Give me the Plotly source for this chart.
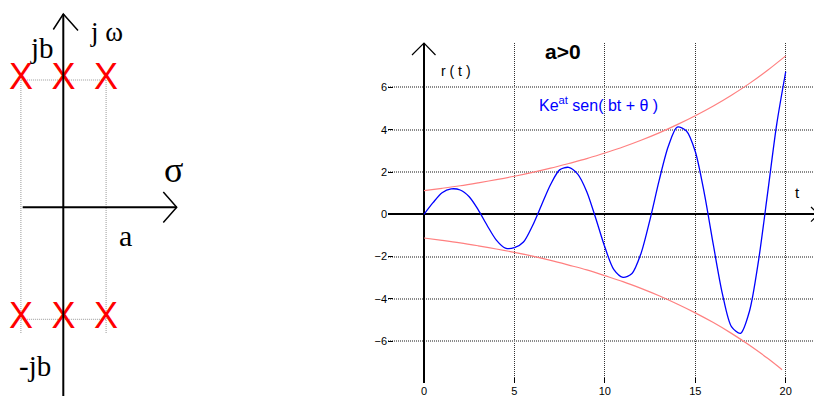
import plotly.graph_objects as go

W, H = 814, 396

# ---- time response r(t) = K e^{at} sen(bt + θ), a > 0 ----
t_resp = [0, 0.5, 1, 1.5, 2, 2.5, 3, 3.5, 4, 4.5, 5, 5.5, 6, 6.5, 7, 7.5, 8, 8.5, 9, 9.5,
          10, 10.5, 11, 11.5, 12, 12.5, 13, 13.5, 14, 14.5, 15, 15.5, 16, 16.5, 17, 17.5,
          18, 18.5, 19, 19.5, 20]
r_resp = [0.0, 0.55, 1.02, 1.20, 1.15, 0.83, 0.21, -0.54, -1.22, -1.60, -1.58, -1.31,
          -0.54, 0.44, 1.41, 2.10, 2.22, 1.90, 1.07, -0.20, -1.55, -2.62, -2.98, -2.80,
          -1.85, -0.24, 1.59, 3.19, 4.12, 3.95, 2.97, 0.99, -1.45, -3.76, -5.31, -5.63,
          -4.57, -2.18, 1.00, 4.24, 6.74]

# envelope ±K e^{at}
env_up_t = [0, 1, 2, 3, 4, 5, 6, 7, 8, 9, 10, 11, 12, 13, 14, 15, 16, 17, 18, 19, 20]
env_up = [1.12, 1.23, 1.35, 1.49, 1.64, 1.80, 1.98, 2.18, 2.40, 2.63, 2.90, 3.18, 3.50,
          3.85, 4.24, 4.66, 5.12, 5.63, 6.19, 6.81, 7.49]
env_lo_t = [0, 1, 2, 3, 4, 5, 6, 7, 8, 9, 10, 11, 12, 13, 14, 15, 16, 17, 18, 19, 19.8]
env_lo = [-1.12, -1.23, -1.35, -1.49, -1.64, -1.80, -1.98, -2.18, -2.40, -2.63, -2.90,
          -3.18, -3.50, -3.85, -4.24, -4.66, -5.12, -5.63, -6.19, -6.81, -7.35]

x_ticks = [0, 5, 10, 15, 20]
y_ticks = [-6, -4, -2, 0, 2, 4, 6]

# ---- s-plane poles (σ, jω): σ ∈ {-a, 0, a}, jω = ±jb with a = b = 1 ----
pole_sigma = [-1, 0, 1]
pole_b = 1


def px(x, y):
    """pixel position -> paper coordinates"""
    return x / W, 1 - y / H


def path(points):
    pts = [px(x, y) for x, y in points]
    return "M " + " L ".join(f"{a:.5f},{b:.5f}" for a, b in pts)


fig = go.Figure()

# envelope curves
fig.add_trace(go.Scatter(x=env_up_t, y=env_up, mode="lines", line=dict(color="#FF8080", width=1.2, shape="spline"),
                         xaxis="x", yaxis="y", hoverinfo="skip"))
fig.add_trace(go.Scatter(x=env_lo_t, y=env_lo, mode="lines", line=dict(color="#FF8080", width=1.2, shape="spline"),
                         xaxis="x", yaxis="y", hoverinfo="skip"))
# response
fig.add_trace(go.Scatter(x=t_resp, y=r_resp, mode="lines", line=dict(color="#0000FF", width=1.3, shape="spline", smoothing=0.8),
                         xaxis="x", yaxis="y"))

# pole diagram: dotted guide rows through the poles
for w in (pole_b, -pole_b):
    fig.add_trace(go.Scatter(x=pole_sigma, y=[w] * len(pole_sigma), mode="lines",
                             line=dict(color="#9A9A9A", width=1, dash="1px,1px"),
                             xaxis="x2", yaxis="y2", hoverinfo="skip"))
# pole markers
fig.add_trace(go.Scatter(x=pole_sigma * 2, y=[pole_b] * 3 + [-pole_b] * 3, mode="text", text=["X"] * 6,
                         textposition="middle center",
                         textfont=dict(family="Liberation Sans", size=36, color="#FF0000"),
                         xaxis="x2", yaxis="y2"))

shapes = []
# dotted verticals through the outer poles
for s in (pole_sigma[0], pole_sigma[-1]):
    shapes.append(dict(type="line", xref="x2", yref="y2", x0=s, x1=s, y0=pole_b, y1=-pole_b - 0.115,
                       line=dict(color="#9A9A9A", width=1, dash="1px,1px"), layer="below"))
# jω axis and σ axis with open arrowheads
shapes.append(dict(type="path", xref="paper", yref="paper", path=path([(63.3, 396), (63.3, 14)]),
                   line=dict(color="black", width=2)))
shapes.append(dict(type="path", xref="paper", yref="paper", path=path([(53.3, 29.5), (63.3, 14), (78, 30.5)]),
                   line=dict(color="black", width=1.5)))
shapes.append(dict(type="path", xref="paper", yref="paper", path=path([(22.7, 207.3), (176.7, 207.3)]),
                   line=dict(color="black", width=2)))
shapes.append(dict(type="path", xref="paper", yref="paper", path=path([(163.3, 192), (176.7, 207.3), (163.3, 222.5)]),
                   line=dict(color="black", width=1.5)))
# arrowheads of the r(t) and t axes
shapes.append(dict(type="path", xref="paper", yref="paper", path=path([(412, 55), (424, 43), (435.5, 55)]),
                   line=dict(color="black", width=1.2)))
shapes.append(dict(type="path", xref="paper", yref="paper", path=path([(811, 207), (818.5, 214.3), (811, 221.6)]),
                   line=dict(color="black", width=1.2)))


def ann(text, x, y, size, family="Liberation Serif", color="black", xanchor="center", bold=False):
    xp, yp = px(x, y)
    return dict(text=f"<b>{text}</b>" if bold else text, x=xp, y=yp, xref="paper", yref="paper",
                xanchor=xanchor, yanchor="middle", showarrow=False,
                font=dict(family=family, size=size, color=color))


annotations = [
    ann("j ω", 106, 32, 27),
    ann("jb", 41.5, 48, 29),
    ann("σ", 173, 170, 36),
    ann("a", 125, 236, 30),
    ann("-jb", 35, 366, 29),
    ann("a>0", 563, 51, 21, family="Liberation Sans", bold=True),
    ann("r ( t )", 456, 71, 14, family="Liberation Sans"),
    ann("Ke<sup>at</sup> sen( bt + θ )", 537, 104, 16, family="Liberation Sans", color="#0000FF", xanchor="left"),
    ann("t", 797, 192, 15, family="Liberation Sans"),
]

x0_px, x_scale = 424.0, 18.085
y0_px, y_scale = 214.3, 21.15

fig.update_layout(
    width=W, height=H,
    margin=dict(l=0, r=0, t=0, b=0, autoexpand=False),
    paper_bgcolor="white", plot_bgcolor="white",
    showlegend=False,
    shapes=shapes,
    annotations=annotations,
    xaxis=dict(domain=[388 / W, 1], range=[(388 - x0_px) / x_scale, (W - x0_px) / x_scale],
               tickvals=x_ticks, ticks="inside", ticklen=5, tickcolor="black",
               showgrid=True, gridcolor="#333333", griddash="1px,1px", gridwidth=1,
               zeroline=True, zerolinecolor="black", zerolinewidth=1.5,
               showline=False, anchor="y", ticklabelstandoff=0, automargin=False,
               tickfont=dict(family="Liberation Sans", size=11, color="black")),
    yaxis=dict(domain=[1 - 383 / H, 1 - 43 / H], range=[(y0_px - 383) / y_scale, (y0_px - 43) / y_scale],
               tickvals=y_ticks, ticks="inside", ticklen=5, tickcolor="black",
               showgrid=True, gridcolor="#8A8A8A", griddash="1px,1px", gridwidth=2,
               zeroline=True, zerolinecolor="black", zerolinewidth=1.5,
               showline=False, anchor="x", automargin=False,
               tickfont=dict(family="Liberation Sans", size=11, color="black")),
    xaxis2=dict(domain=[0, 200 / W], range=[-63.5 / 42.6, 136.5 / 42.6], visible=False, anchor="y2"),
    yaxis2=dict(domain=[0, 1], range=[(199.65 - 396) / 119.65, 199.65 / 119.65], visible=False, anchor="x2"),
)

fig.write_html("out.html")
